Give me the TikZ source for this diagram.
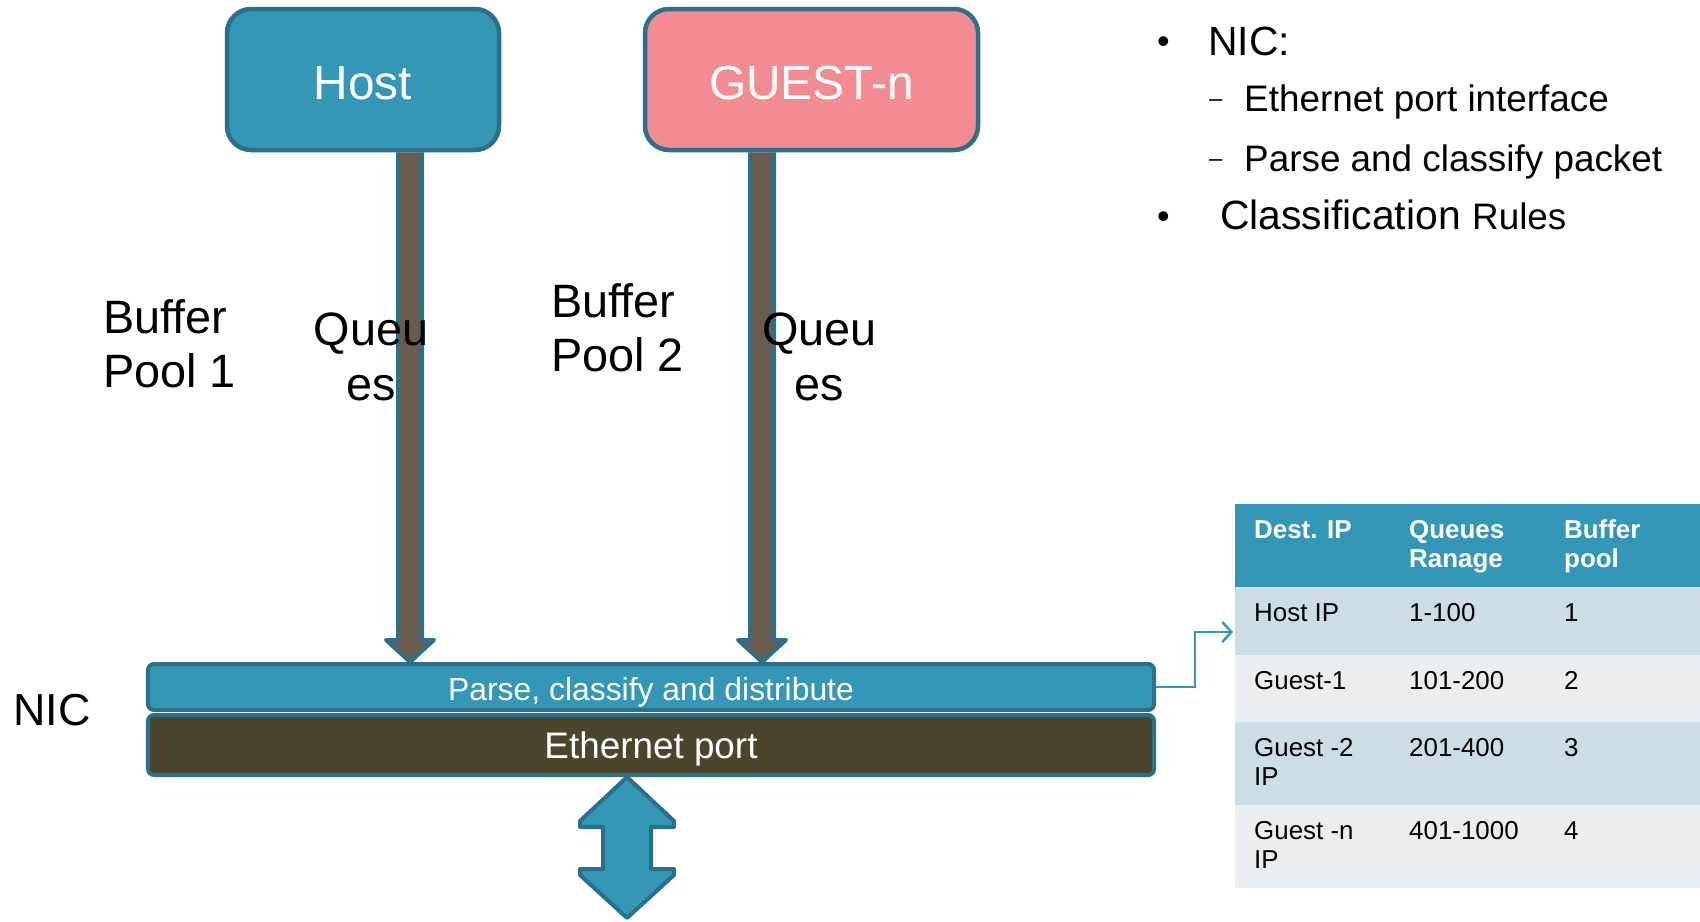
\documentclass[tikz,border=0pt]{standalone}
\usepackage{fontspec}
\setmainfont{Liberation Sans}
\usetikzlibrary{arrows.meta,calc}

\definecolor{tealfill}{HTML}{3597B8}
\definecolor{tealedge}{HTML}{2B6F88}
\definecolor{guestfill}{HTML}{F38B93}
\definecolor{shaftfill}{HTML}{6B5B4F}
\definecolor{ethfill}{HTML}{4B452D}
\definecolor{rowdark}{HTML}{CDDDE5}
\definecolor{rowlight}{HTML}{E8EEF2}

\newcommand\fsz[1]{\fontsize{#1}{#1}\selectfont}

\begin{document}
\begin{tikzpicture}[x=1bp,y=-1bp,
  vmbox/.style={draw=tealedge,line width=4.5bp,rounded corners=24bp,inner sep=0pt,
    minimum height=141bp,text=white,font=\fsz{48},text height=39bp,text depth=0pt},
  bar/.style={draw=tealedge,line width=4bp,rounded corners=6bp,inner sep=0pt,
    minimum width=1006bp,text=white,text depth=0pt},
  fat/.style={draw=tealedge,line width=4bp,line join=round},
  link/.style={draw=tealfill,line width=2.5bp,-{Straight Barb[length=9bp,width=20bp]},shorten >=2bp},
  lbl/.style={anchor=base west,inner sep=0pt,font=\fsz{47}},
  qlbl/.style={anchor=base,inner sep=0pt,font=\fsz{47}},
  cell/.style={inner sep=0pt,outer sep=0pt,minimum width=465bp},
  th/.style={anchor=base west,inner sep=0pt,font=\fsz{26}\bfseries,text=white},
  td/.style={anchor=base west,inner sep=0pt,font=\fsz{26}},
  bul/.style={anchor=base west,inner sep=0pt}
]
\useasboundingbox (0,0) rectangle (1700,921);

% virtual machines
\node[vmbox,fill=tealfill,minimum width=272bp] (host) at (363,79.5) {Host};
\node[vmbox,fill=guestfill,minimum width=333bp] (guest) at (811.5,79.5) {GUEST-n};

% NIC layers
\node[bar,fill=tealfill,minimum height=46bp,font=\fsz{32},text height=27bp] (parse) at (651,687) {Parse, classify and distribute};
\node[bar,fill=ethfill,minimum height=60bp,font=\fsz{37},text height=26.5bp] (eth) at (651,745) {Ethernet port};

% queue arrows from the VMs down to the classifier
\path ([xshift=47bp]host.south) coordinate (hs);
\path (hs |- parse.north) coordinate (ht);
\draw[fat,fill=shaftfill] let \p1=(hs),\p2=(ht) in
  (\x1-12bp,\y1) -- (\x1-12bp,\y2+22bp) -- (\x1-24bp,\y2+22bp) -- (\x1,\y2)
  -- (\x1+24bp,\y2+22bp) -- (\x1+12bp,\y2+22bp) -- (\x1+12bp,\y1);

\path ([xshift=-49.5bp]guest.south) coordinate (gs);
\path (gs |- parse.north) coordinate (gt);
\draw[fat,fill=shaftfill] let \p1=(gs),\p2=(gt) in
  (\x1-12bp,\y1) -- (\x1-12bp,\y2+22bp) -- (\x1-24bp,\y2+22bp) -- (\x1,\y2)
  -- (\x1+24bp,\y2+22bp) -- (\x1+12bp,\y2+22bp) -- (\x1+12bp,\y1);

% bidirectional wire arrow below the ethernet port
\path ([xshift=-24bp]eth.south) coordinate (es);
\draw[fat,fill=tealfill] let \p1=(es) in
  (\x1,\y1) -- (\x1+47bp,\y1-44bp) -- (\x1+47bp,\y1-50bp) -- (\x1+24bp,\y1-50bp)
  -- (\x1+24bp,\y1-92bp) -- (\x1+47bp,\y1-92bp) -- (\x1+47bp,\y1-98bp) -- (\x1,\y1-141bp)
  -- (\x1-47bp,\y1-98bp) -- (\x1-47bp,\y1-92bp) -- (\x1-24bp,\y1-92bp) -- (\x1-24bp,\y1-50bp)
  -- (\x1-47bp,\y1-50bp) -- (\x1-47bp,\y1-44bp) -- cycle;

% labels
\node[lbl] (bp1a) at (103,333) {Buffer};
\node[lbl] (bp1b) at (103,387) {Pool 1};
\node[lbl] (bp2a) at (551,317) {Buffer};
\node[lbl] (bp2b) at (551,371) {Pool 2};
\node[qlbl] (q1a) at (371,345) {Queu};
\node[qlbl] (q1b) at (371,400) {es};
\node[qlbl] (q2a) at (819.5,345) {Queu};
\node[qlbl] (q2b) at (819.5,400) {es};
\node[anchor=base west,inner sep=0pt,font=\fsz{45}] (nic) at (13,725) {NIC};

% bullet list
\node[bul,font=\fsz{36}] (b1) at (1157,53) {•};
\node[bul,font=\fsz{41}] (t1) at (1208,55) {NIC:};
\node[bul,font=\fsz{24}] (d1) at (1209,106) {–};
\node[bul,font=\fsz{37}] (t2) at (1244,111) {Ethernet port interface};
\node[bul,font=\fsz{24}] (d2) at (1209,166) {–};
\node[bul,font=\fsz{37}] (t3) at (1244,171) {Parse and classify packet};
\node[bul,font=\fsz{36}] (b2) at (1157,228) {•};
\node[bul,font=\fsz{41}] (t4) at (1220,229) {Classification {\fsz{37}Rules}};

% classification table
\node[cell,fill=tealfill,minimum height=83bp] (hd) at (1467.5,545.5) {};
\node[cell,fill=rowdark,minimum height=68bp] (r1) at (1467.5,621) {};
\node[cell,fill=rowlight,minimum height=67bp] (r2) at (1467.5,688.5) {};
\node[cell,fill=rowdark,minimum height=83bp] (r3) at (1467.5,763.5) {};
\node[cell,fill=rowlight,minimum height=83bp] (r4) at (1467.5,846.5) {};

\node[th] (h1) at (1254,538) {Dest. IP};
\node[th] (h2a) at (1409,538) {Queues};
\node[th] (h2b) at (1409,567) {Ranage};
\node[th] (h3a) at (1564,538) {Buffer};
\node[th] (h3b) at (1564,567) {pool};

\node[td] (c11) at (1254,621.5) {Host IP};
\node[td] (c12) at (1409,621.5) {1-100};
\node[td] (c13) at (1564,621.5) {1};
\node[td] (c21) at (1254,689) {Guest-1};
\node[td] (c22) at (1409,689) {101-200};
\node[td] (c23) at (1564,689) {2};
\node[td] (c31) at (1254,756) {Guest -2};
\node[td] (c31b) at (1254,785.5) {IP};
\node[td] (c32) at (1409,756) {201-400};
\node[td] (c33) at (1564,756) {3};
\node[td] (c41) at (1254,839) {Guest -n};
\node[td] (c41b) at (1254,868.5) {IP};
\node[td] (c42) at (1409,839) {401-1000};
\node[td] (c43) at (1564,839) {4};

% classifier lookup into the rule table
\draw[link] (parse.east) -- ++(39,0) |- ([yshift=-11bp]r1.west);
\end{tikzpicture}
\end{document}
